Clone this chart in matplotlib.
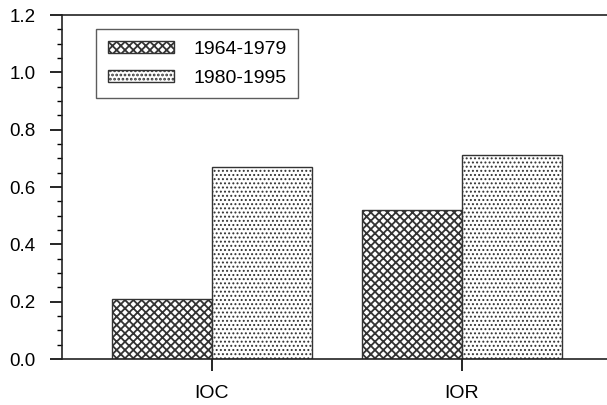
import matplotlib
matplotlib.use("Agg")
import matplotlib.pyplot as plt
import numpy as np

plt.rcParams['font.family'] = ['Liberation Sans', 'DejaVu Sans']
plt.rcParams['hatch.linewidth'] = 1.3

labels = ['IOC', 'IOR']
early = [0.21, 0.52]
late = [0.67, 0.71]
series_names = ['1964-1979', '1980-1995']

x = np.arange(len(labels))
width = 0.4

fig = plt.figure(figsize=(6.07, 4.05), dpi=100)
ax = fig.add_axes([62/607, 46/405, 545/607, 344/405])

ax.bar(x - width/2, early, width, color='white', edgecolor='#333333',
       hatch='xxxx', linewidth=1.0, label=series_names[0])
dots = ax.bar(x + width/2, late, width, color='white', edgecolor='#333333',
              hatch='....', linewidth=1.0, label=series_names[1])
# finer dots for the second period
for p in dots:
    if hasattr(p, 'set_hatch_linewidth'):
        p.set_hatch_linewidth(0.9)

ax.set_xlim(-0.6, 1.58)
ax.set_ylim(0, 1.2)
ax.set_xticks(x)
ax.set_xticklabels(labels)
ax.set_yticks(np.arange(0, 1.21, 0.2))
ax.set_yticklabels(['%.1f' % v for v in np.arange(0, 1.21, 0.2)])
ax.set_yticks(np.arange(0, 1.21, 0.05), minor=True)

ax.spines['right'].set_visible(False)
for s in ['left', 'bottom', 'top']:
    ax.spines[s].set_linewidth(1.2)
    ax.spines[s].set_color('#222222')

ax.tick_params(axis='y', which='major', length=8.6, width=1.2, labelsize=13.5, pad=10.5)
ax.tick_params(axis='y', which='minor', length=3.6, width=1.0)
ax.tick_params(axis='x', which='major', length=8.6, width=1.2, labelsize=14, pad=10)

leg = ax.legend(loc='upper left', bbox_to_anchor=(34/545, 1 - 14/344),
                fontsize=14, frameon=True, fancybox=False, edgecolor='#333333',
                handlelength=3.4, handleheight=0.6, handletextpad=1.0,
                borderpad=0.6, labelspacing=0.62, borderaxespad=0)
leg.get_frame().set_linewidth(1.0)

fig.savefig('out.png', dpi=100)
